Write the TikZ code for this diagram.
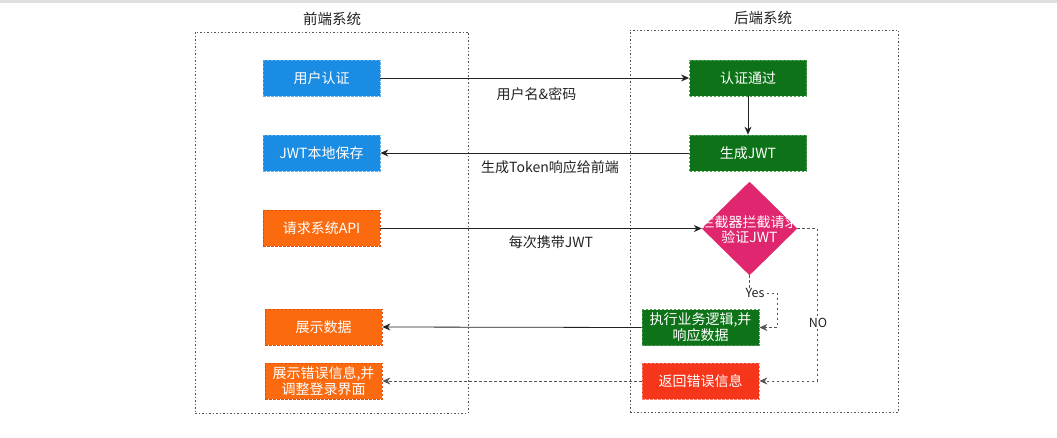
\documentclass[tikz,border=0pt]{standalone}
\usepackage{fontspec}
\setmainfont{Noto Sans CJK SC}
\usetikzlibrary{arrows.meta,shapes.geometric}
\definecolor{cblue}{HTML}{1B8CE3}
\definecolor{cbluel}{HTML}{5FB0EE}
\definecolor{cgreen}{HTML}{0E7318}
\definecolor{cgreenl}{HTML}{4E9E52}
\definecolor{corange}{HTML}{FB6A0E}
\definecolor{corangel}{HTML}{E0500A}
\definecolor{cred}{HTML}{F5361B}
\definecolor{credl}{HTML}{FF7A6A}
\definecolor{cpink}{HTML}{E0266E}
\definecolor{cframe}{HTML}{555555}
\definecolor{ctext}{HTML}{222222}
\tikzset{
  box/.style={rectangle, minimum width=117pt, minimum height=36pt, inner sep=0pt,
    text=white, font=\fontsize{14}{17}\selectfont, align=center,
    dash pattern=on 2.5pt off 1.5pt, line width=0.8pt},
  bluebox/.style={box, fill=cblue, draw=cbluel},
  greenbox/.style={box, fill=cgreen, draw=cgreenl},
  orangebox/.style={box, fill=corange, draw=corangel},
  redbox/.style={box, fill=cred, draw=credl},
  container/.style={rectangle, draw=cframe, dash pattern=on 1.5pt off 2pt, line width=0.8pt, inner sep=0pt},
  title/.style={text=ctext, font=\fontsize{14.5}{17}\selectfont},
  lbl/.style={text=ctext, font=\fontsize{14}{17}\selectfont},
  arr/.style={draw=ctext, line width=0.8pt, -{Stealth[length=8pt,width=7pt]}},
  darr/.style={arr, draw=cframe, dash pattern=on 2.5pt off 2.5pt},
}
\begin{document}
\begin{tikzpicture}[x=1pt,y=-1pt]
\useasboundingbox (0,0) rectangle (1057,438);
\fill[gray!25] (0,0) rectangle (1057,3);

% containers
\node[container, minimum width=273pt, minimum height=381pt] (fe) at (331.5,222.5) {};
\node[container, minimum width=268pt, minimum height=382pt] (be) at (764,221) {};
\node[title] (fet) at (332,19) {前端系统};
\node[title] (bet) at (763,18) {后端系统};

% frontend boxes
\node[bluebox] (auth) at (321.5,78) {用户认证};
\node[bluebox] (save) at (321.5,153) {JWT本地保存};
\node[orangebox] (req) at (321.5,228.5) {请求系统API};
\node[orangebox] (show) at (323.5,327) {展示数据};
\node[orangebox] (showerr) at (323.5,381) {展示错误信息,并\\[-1pt]调整登录界面};

% backend boxes
\node[greenbox] (ok) at (748,78) {认证通过};
\node[greenbox] (gen) at (748,153) {生成JWT};
\node[diamond, fill=cpink, draw=cpink, minimum width=95pt, minimum height=93pt, inner sep=0pt] (chk) at (749.5,228.5) {};
\node[text=white, font=\fontsize{14}{15}\selectfont, align=center] (chkt) at (749.5,230) {拦截器拦截请求\\验证JWT};
\node[greenbox] (exec) at (700.5,327.5) {执行业务逻辑,并\\[-1pt]响应数据};
\node[redbox] (err) at (700.5,381) {返回错误信息};

% connectors
\draw[arr] (auth.east) -- (ok.west);
\node[lbl] (l1) at (536.5,94) {用户名\&密码};
\draw[arr] (ok.south) -- (gen.north);
\draw[arr] (gen.west) -- (save.east);
\node[lbl] (l2) at (550,167) {生成Token响应给前端};
\draw[arr] (req.east) -- (chk.west);
\node[lbl] (l3) at (551,242) {每次携带JWT};
\draw[arr] (exec.west) -- (show.east);

\coordinate (y1) at (749.5,293);
\coordinate (y2) at (777,293);
\coordinate (y3) at (777,327.5);
\draw[darr] (chk.south) -- (y1) -- (y2) -- (y3) -- (exec.east);
\node[lbl, fill=white, inner sep=0.5pt, font=\fontsize{12.5}{14}\selectfont] (yes) at (755,293) {Yes};

\coordinate (n1) at (817,228.5);
\coordinate (n2) at (817,381);
\draw[darr] (chk.east) -- (n1) -- (n2) -- (err.east);
\node[lbl, fill=white, inner sep=1pt, font=\fontsize{12.5}{14}\selectfont] (no) at (818,323) {NO};

\draw[darr] (err.west) -- (showerr.east);
\end{tikzpicture}
\end{document}
